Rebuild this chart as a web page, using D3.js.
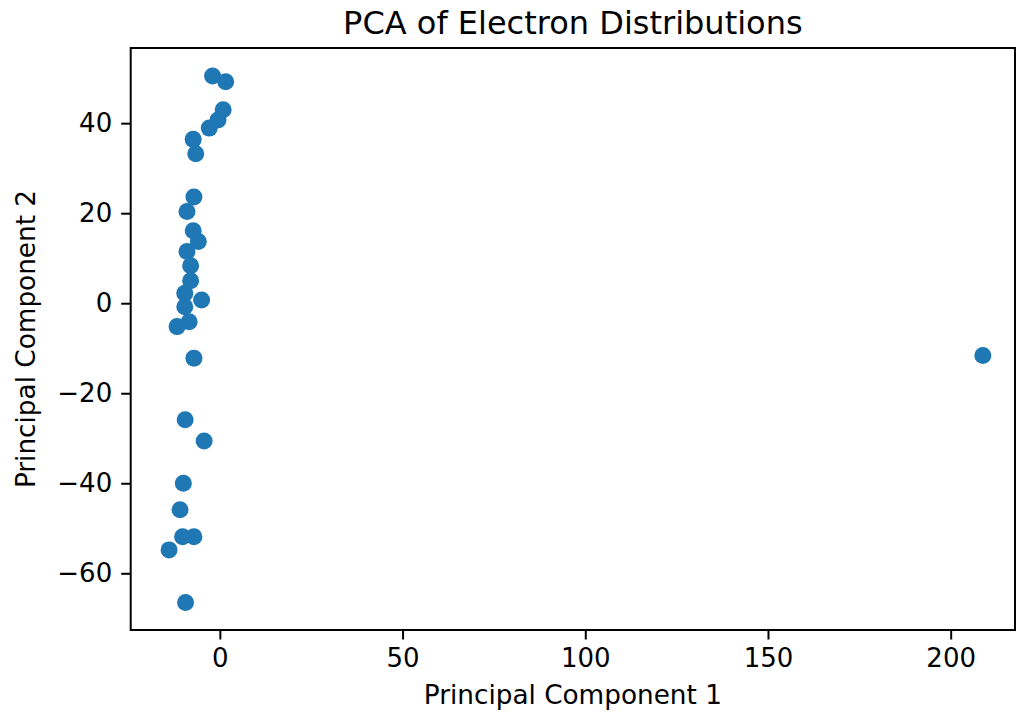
<!DOCTYPE html>
<html>
<head>
<meta charset="utf-8">
<script src="https://cdn.jsdelivr.net/npm/d3@7"></script>
<style>
  html, body { margin: 0; padding: 0; background: #fff; }
  svg { display: block; font-family: "DejaVu Sans", sans-serif; }
</style>
</head>
<body>
<svg id="chart" width="1017" height="715"></svg>
<script>
// Data
const pc1 = [-2.0, 1.6, 0.9, -0.5, -2.9, -7.3, -6.6, -7.1, -9.0, -7.3, -5.9, -9.0, -8.0, -8.0,
             -9.6, -5.0, -9.6, -8.4, -11.7, -7.1, -9.5, -4.3, -10.0, -10.9, -10.2, -7.1, -13.9, -9.4, 208.8];
const pc2 = [50.5, 49.2, 43.0, 40.7, 38.9, 36.4, 33.2, 23.6, 20.4, 16.1, 13.7, 11.5, 8.3, 5.0,
             2.2, 0.7, -0.8, -4.1, -5.2, -12.2, -25.9, -30.6, -40.0, -45.9, -51.9, -51.9, -54.8, -66.5, -11.6];
const xTicks = [0, 50, 100, 150, 200];
const yTicks = [-60, -40, -20, 0, 20, 40];
const xDomain = [-24.4, 217.6];
const yDomain = [-72.6, 56.7];

const titleText = "PCA of Electron Distributions";
const xLabelText = "Principal Component 1";
const yLabelText = "Principal Component 2";

const points = pc1.map((v, i) => ({ x: v, y: pc2[i] }));

const svg = d3.select("#chart");
const pLeft = 130.7, pRight = 1015, pTop = 48, pBottom = 630;

const xScale = d3.scaleLinear().domain(xDomain).range([pLeft, pRight]);
const yScale = d3.scaleLinear().domain(yDomain).range([pBottom, pTop]);

const fmt = d => (d < 0 ? "\u2212" + Math.abs(d) : String(d));

// points
svg.append("g")
  .selectAll("circle")
  .data(points)
  .join("circle")
  .attr("cx", d => xScale(d.x))
  .attr("cy", d => yScale(d.y))
  .attr("r", 8.5)
  .attr("fill", "#1f77b4");

// axes
const xAxisG = svg.append("g")
  .attr("transform", `translate(0,${pBottom})`)
  .call(d3.axisBottom(xScale).tickValues(xTicks).tickFormat(fmt).tickSize(9.5).tickPadding(9));
const yAxisG = svg.append("g")
  .attr("transform", `translate(${pLeft},0)`)
  .call(d3.axisLeft(yScale).tickValues(yTicks).tickFormat(fmt).tickSize(9.5).tickPadding(9));

[xAxisG, yAxisG].forEach(g => {
  g.select(".domain").remove();
  g.selectAll(".tick line").attr("stroke", "#000").attr("stroke-width", 2);
  g.selectAll(".tick text").attr("fill", "#000").style("font-size", "26px")
    .style("font-family", "'DejaVu Sans', sans-serif");
});

// frame (spines)
svg.append("rect")
  .attr("x", pLeft).attr("y", pTop)
  .attr("width", pRight - pLeft).attr("height", pBottom - pTop)
  .attr("fill", "none").attr("stroke", "#000").attr("stroke-width", 2);

// labels
svg.append("text")
  .attr("x", (pLeft + pRight) / 2).attr("y", 34)
  .attr("text-anchor", "middle")
  .style("font-size", "32px").attr("fill", "#000")
  .text(titleText);

svg.append("text")
  .attr("x", (pLeft + pRight) / 2).attr("y", 704)
  .attr("text-anchor", "middle")
  .style("font-size", "26.3px").attr("fill", "#000")
  .text(xLabelText);

svg.append("text")
  .attr("transform", `translate(35,${(pTop + pBottom) / 2}) rotate(-90)`)
  .attr("text-anchor", "middle")
  .style("font-size", "26.3px").attr("fill", "#000")
  .text(yLabelText);
</script>
</body>
</html>
